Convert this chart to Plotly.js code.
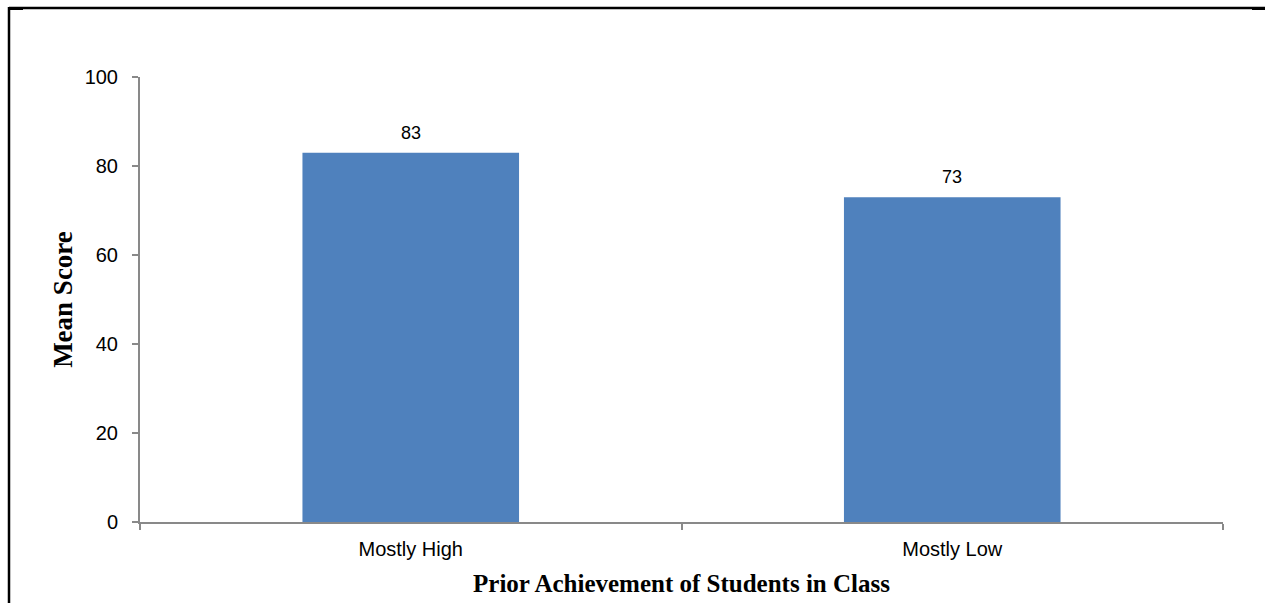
<!DOCTYPE html>
<html>
<head>
<meta charset="utf-8">
<script src="https://cdn.plot.ly/plotly-3.0.1.min.js"></script>
<style>
  html, body { margin: 0; padding: 0; background: #fff; }
  #chart { width: 1265px; height: 603px; }
</style>
</head>
<body>
<div id="chart"></div>
<script>
// Mean score by prior achievement level of the class
const categories = ['Mostly High', 'Mostly Low'];
const meanScores = [83, 73];
const yTicks = [0, 20, 40, 60, 80, 100];

const W = 1265, H = 603;
const margin = { l: 140, r: 42, t: 77, b: 81 };
const plotW = W - margin.l - margin.r;
const plotH = H - margin.t - margin.b;
// convert page pixels to paper coordinates for the frame lines
const px = x => (x - margin.l) / plotW;
const py = y => (H - margin.b - y) / plotH;

const axisGrey = '#898989';
const sans = 'Liberation Sans, Arial, sans-serif';
const serif = 'Liberation Serif, Times New Roman, serif';

const trace = {
  type: 'bar',
  x: categories,
  y: meanScores,
  marker: { color: '#4f81bd' },
  hoverinfo: 'x+y'
};

// value labels sit a little above each bar
const valueLabels = categories.map((c, i) => ({
  x: c,
  y: meanScores[i],
  xref: 'x',
  yref: 'y',
  text: String(meanScores[i]),
  showarrow: false,
  yanchor: 'bottom',
  yshift: 8,
  font: { family: sans, size: 18, color: '#000' }
}));

const frameLine = { color: '#000', width: 2.5 };

const layout = {
  width: W,
  height: H,
  margin: margin,
  paper_bgcolor: '#fff',
  plot_bgcolor: '#fff',
  showlegend: false,
  bargap: 0.6,
  font: { family: sans, size: 20, color: '#000' },
  xaxis: {
    type: 'category',
    showline: true,
    linecolor: axisGrey,
    linewidth: 2,
    ticks: 'outside',
    tickson: 'boundaries',
    ticklen: 6,
    tickwidth: 2,
    tickcolor: axisGrey,
    ticklabelstandoff: 8,
    showgrid: false,
    zeroline: false,
    tickfont: { family: sans, size: 20 },
    title: {
      text: 'Prior Achievement of Students in Class',
      font: { family: serif, size: 25, color: '#000', weight: 'bold' },
      standoff: 15
    }
  },
  yaxis: {
    range: [0, 100],
    tickvals: yTicks,
    ticktext: yTicks.map(String),
    showline: true,
    linecolor: axisGrey,
    linewidth: 2,
    ticks: 'outside',
    ticklen: 6,
    tickwidth: 2,
    tickcolor: axisGrey,
    ticklabelstandoff: 10,
    showgrid: false,
    zeroline: false,
    tickfont: { family: sans, size: 20 },
    title: {
      text: 'Mean Score',
      font: { family: serif, size: 27, color: '#000', weight: 'bold' },
      standoff: 4
    }
  },
  annotations: valueLabels,
  shapes: [
    // page frame: top and left rules
    { type: 'line', xref: 'paper', yref: 'paper', x0: px(9), x1: px(1265), y0: py(8), y1: py(8), line: frameLine },
    { type: 'line', xref: 'paper', yref: 'paper', x0: px(9), x1: px(9), y0: py(7), y1: py(603), line: frameLine },
    // short heavier corner marks
    { type: 'line', xref: 'paper', yref: 'paper', x0: px(9), x1: px(23), y0: py(9), y1: py(9), line: { color: '#000', width: 2 } },
    { type: 'line', xref: 'paper', yref: 'paper', x0: px(1252), x1: px(1265), y0: py(9), y1: py(9), line: { color: '#000', width: 2 } }
  ]
};

Plotly.newPlot('chart', [trace], layout, { displayModeBar: false, staticPlot: true });
</script>
</body>
</html>
